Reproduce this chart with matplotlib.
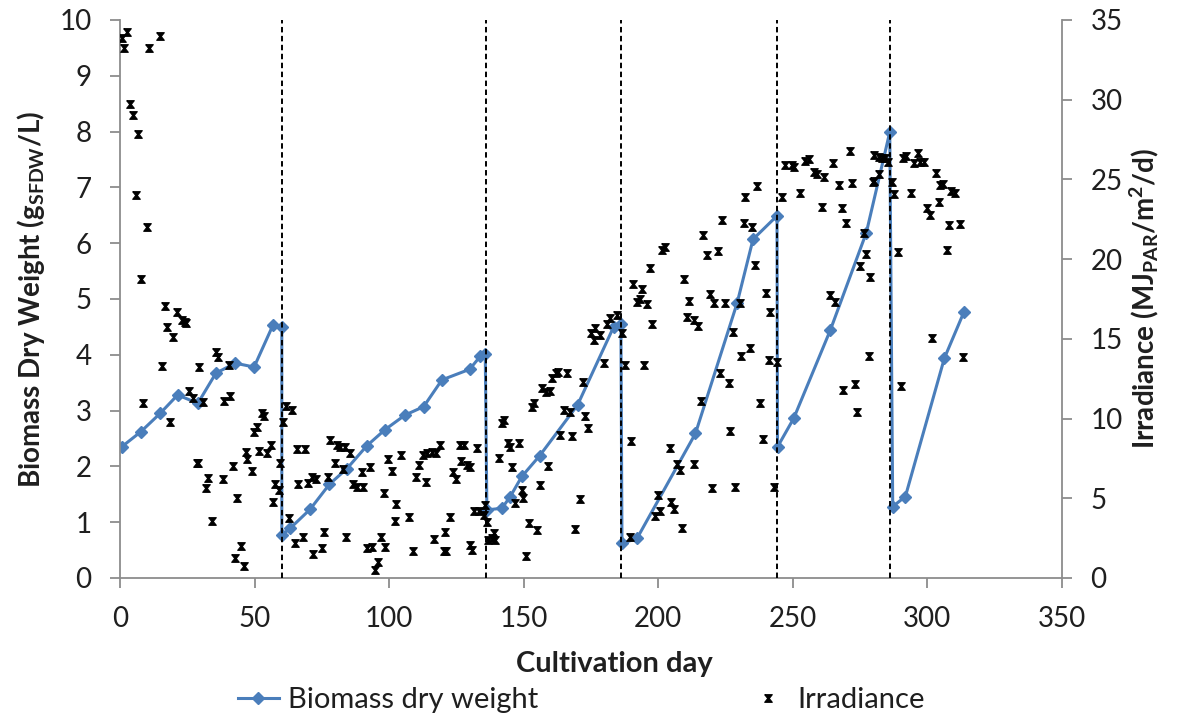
import numpy as np
import matplotlib
matplotlib.use("Agg")
import matplotlib.pyplot as plt
from matplotlib.lines import Line2D

plt.rcParams["font.family"] = ["Lato", "DejaVu Sans"]
plt.rcParams["mathtext.fontset"] = "custom"
plt.rcParams["mathtext.rm"] = "Lato:bold"
plt.rcParams["mathtext.it"] = "Lato:bold"
plt.rcParams["mathtext.bf"] = "Lato:bold"

# biomass dry weight (g/L) per cultivation day
bio_day = [0.6, 7.7, 14.9, 21.4, 28.9, 35.6, 42.8, 49.8, 56.8, 60.1,
           60.1, 63.2, 70.6, 77.8, 84.3, 91.7, 98.5, 105.9, 112.8, 119.6,
           129.9, 133.8, 135.7, 136.3, 141.9, 145.0, 149.3, 155.9, 170.0, 183.4,
           186.1, 186.5, 192.1, 213.8, 229.3, 235.2, 244.1, 244.3, 250.3, 263.9,
           277.3, 286.0, 287.1, 291.8, 306.3, 313.5]
bio_val = [2.35, 2.62, 2.95, 3.28, 3.13, 3.67, 3.85, 3.78, 4.53, 4.50,
           0.77, 0.89, 1.23, 1.68, 1.96, 2.37, 2.66, 2.92, 3.07, 3.55,
           3.74, 3.97, 4.02, 1.22, 1.25, 1.46, 1.82, 2.19, 3.10, 4.50,
           4.56, 0.62, 0.71, 2.59, 4.93, 6.07, 6.49, 2.35, 2.86, 4.44,
           6.19, 7.99, 1.28, 1.46, 3.94, 4.76]

# harvest days (dashed lines)
harvest_days = [60, 136, 186, 244, 286]

# irradiance (MJ_PAR/m2/d)
irr_day = [0.6, 1.5, 2.7, 3.7, 4.7, 5.8, 6.8, 7.7, 8.7, 9.9,
           10.9, 14.9, 15.5, 16.7, 17.4, 18.6, 19.8, 21.0, 22.9, 24.2,
           24.5, 25.8, 27.0, 28.5, 29.1, 29.5, 31.0, 32.0, 32.8, 34.1,
           35.6, 36.5, 38.2, 38.7, 40.3, 40.9, 42.1, 42.8, 43.6, 44.9,
           46.1, 46.8, 47.3, 49.0, 49.8, 50.8, 51.8, 52.7, 53.5, 54.5,
           56.0, 56.8, 57.6, 58.9, 59.5, 60.5, 61.7, 62.6, 63.8, 65.1,
           65.9, 66.3, 67.9, 68.8, 70.0, 71.3, 71.6, 72.9, 75.0, 75.6,
           77.1, 78.1, 79.9, 80.6, 81.8, 82.8, 83.6, 84.0, 85.5, 86.7,
           88.2, 89.8, 90.4, 91.7, 92.9, 93.6, 94.8, 96.0, 96.9, 98.1,
           98.5, 99.7, 101.0, 102.2, 102.6, 104.3, 107.5, 109.0, 109.9, 110.9,
           112.5, 113.8, 114.0, 115.9, 116.5, 117.5, 119.0, 120.2, 120.8, 121.2,
           122.7, 123.7, 124.9, 126.4, 126.7, 127.9, 128.9, 129.9, 130.1, 130.7,
           131.6, 132.8, 133.4, 135.1, 135.7, 136.3, 136.9, 138.2, 138.8, 139.4,
           140.9, 141.9, 142.5, 144.3, 145.0, 145.6, 146.8, 148.1, 149.3, 149.9,
           150.9, 151.8, 153.0, 153.7, 154.9, 155.9, 156.8, 158.4, 158.9, 159.9,
           160.5, 162.1, 162.6, 163.6, 164.8, 166.1, 167.0, 167.9, 169.1, 171.0,
           172.2, 172.9, 173.7, 175.0, 176.0, 176.6, 178.2, 179.7, 180.9, 181.9,
           184.6, 186.5, 187.7, 189.3, 189.8, 190.6, 192.1, 193.3, 193.9, 194.8,
           195.8, 197.0, 197.7, 198.9, 199.7, 200.7, 201.4, 202.6, 204.2, 204.7,
           206.0, 206.9, 208.2, 208.8, 209.7, 210.7, 211.3, 213.1, 213.1, 214.6,
           215.9, 216.6, 218.1, 219.1, 220.0, 220.8, 222.0, 222.8, 223.7, 224.9,
           226.1, 226.8, 227.8, 228.6, 230.2, 230.7, 231.7, 232.3, 233.9, 234.8,
           236.1, 236.7, 237.9, 238.9, 240.1, 241.0, 241.6, 242.9, 244.1, 246.0,
           247.2, 249.7, 250.6, 252.8, 254.6, 255.9, 257.7, 259.0, 260.8, 261.5,
           263.9, 264.9, 265.8, 267.0, 268.3, 268.6, 269.9, 271.1, 272.0, 273.2,
           273.9, 274.8, 276.6, 277.3, 278.2, 278.8, 279.8, 280.0, 280.0, 281.9,
           281.9, 283.2, 284.4, 285.3, 286.9, 287.5, 289.0, 290.2, 291.0, 292.2,
           293.9, 294.9, 296.4, 297.4, 298.9, 299.9, 300.9, 301.7, 303.0, 304.2,
           304.8, 305.8, 307.1, 307.9, 308.8, 310.4, 312.0, 313.3]
irr_val = [33.86, 33.27, 34.27, 29.74, 29.05, 24.03, 27.85, 18.74, 10.96, 22.00,
           33.23, 34.00, 13.30, 17.06, 15.77, 9.81, 15.14, 16.70, 16.19, 16.08,
           16.02, 11.73, 11.27, 7.20, 7.20, 13.22, 11.06, 5.63, 6.29, 3.59,
           14.16, 13.85, 6.21, 11.12, 13.36, 11.42, 7.03, 1.24, 5.00, 2.03,
           0.77, 7.92, 7.45, 6.73, 9.18, 9.49, 7.99, 10.33, 10.16, 7.82,
           8.34, 4.79, 5.90, 5.50, 7.23, 9.81, 10.79, 3.74, 10.54, 2.18,
           8.07, 5.90, 2.55, 8.07, 5.98, 6.36, 1.51, 6.19, 1.86, 2.90,
           6.36, 8.66, 7.20, 8.34, 8.20, 6.82, 8.20, 2.59, 7.82, 5.90,
           5.73, 6.67, 5.69, 1.86, 6.98, 1.96, 0.50, 1.02, 2.55, 5.31,
           1.96, 7.45, 6.71, 3.59, 4.64, 7.72, 3.81, 1.71, 6.32, 7.09,
           7.72, 6.04, 7.82, 7.92, 2.43, 7.82, 8.34, 1.71, 2.90, 1.71,
           3.81, 6.67, 6.19, 8.34, 7.36, 8.34, 7.09, 2.07, 6.98, 1.76,
           4.20, 8.14, 4.20, 3.95, 4.58, 3.53, 2.38, 2.49, 2.80, 2.38,
           7.51, 9.70, 9.91, 8.45, 8.20, 6.98, 4.69, 8.45, 5.52, 5.00,
           1.38, 3.43, 10.75, 11.00, 3.01, 5.83, 11.90, 11.69, 7.03, 11.75,
           12.53, 12.84, 12.94, 8.97, 10.54, 12.88, 10.43, 8.91, 3.06, 4.94,
           12.32, 10.16, 9.39, 15.39, 14.93, 15.70, 15.24, 13.51, 15.93, 16.29,
           16.50, 15.35, 13.36, 2.59, 8.61, 18.44, 17.33, 17.48, 18.11, 13.36,
           17.19, 19.43, 15.93, 3.89, 5.21, 4.20, 20.58, 20.75, 8.14, 4.79,
           4.31, 7.15, 6.78, 3.12, 18.74, 16.36, 17.40, 16.19, 7.15, 15.81,
           11.12, 21.52, 20.26, 17.82, 5.63, 17.27, 20.53, 12.88, 22.46, 17.27,
           12.21, 9.24, 15.45, 5.73, 17.27, 13.93, 22.29, 23.92, 14.41, 22.04,
           19.64, 24.59, 10.96, 8.70, 17.90, 13.68, 16.71, 5.73, 13.57, 23.89,
           25.91, 25.91, 25.80, 24.17, 26.18, 26.27, 25.49, 25.35, 23.29, 25.18,
           17.75, 26.02, 17.33, 24.65, 23.19, 11.79, 22.29, 26.81, 24.76, 12.17,
           10.43, 19.57, 21.62, 20.33, 13.93, 18.90, 24.86, 26.54, 24.93, 25.35,
           26.39, 26.33, 26.33, 26.12, 24.86, 24.09, 20.47, 12.05, 26.33, 26.47,
           24.13, 26.02, 26.68, 26.12, 26.12, 23.19, 22.77, 15.04, 25.43, 23.61,
           24.65, 24.72, 20.58, 22.15, 24.30, 24.17, 22.21, 13.85]

blue = "#4A7EBB"
grey = "#8C8C8C"
txt = "#1f1f1f"
# excel style "x" marker (hourglass shaped)
xmark = [(-1, 1), (1, 1), (0.2, 0), (1, -1), (-1, -1), (-0.2, 0), (-1, 1)]

fig = plt.figure(figsize=(11.77, 7.18), dpi=100)
ax = fig.add_axes([0.102, 0.195, 0.8003, 0.7772])
ax2 = ax.twinx()

ax.plot(bio_day, bio_val, color=blue, lw=2.2, marker="D", ms=6.5, mec=blue, mfc=blue, zorder=2)
for d in harvest_days:
    ax.axvline(d, color="black", lw=1.4, ls=(0, (2.8, 1.8)), zorder=3)

ax2.plot(irr_day, irr_val, ls="none", marker=xmark, ms=5.5, color="black", mew=0.8)

ax.set_xlim(0, 350)
ax.set_ylim(0, 10)
ax2.set_ylim(0, 35)
ax.set_xticks(np.arange(0, 351, 50))
ax.set_yticks(np.arange(0, 11, 1))
ax2.set_yticks(np.arange(0, 36, 5))

for a in (ax, ax2):
    a.spines["top"].set_visible(False)
    for s in a.spines.values():
        s.set_color(grey)
        s.set_linewidth(1.3)
    a.tick_params(direction="out", length=7.5, width=1.3, color=grey,
                  labelsize=20, labelcolor=txt, pad=13)
ax.spines["right"].set_visible(False)
ax2.spines["left"].set_visible(False)
ax2.spines["bottom"].set_visible(False)

ax.set_xlabel("Cultivation day", fontsize=21, fontweight="bold", color=txt)
ax.xaxis.set_label_coords(0.525, -0.13)
ax.set_ylabel(r"Biomass Dry Weight (g$_{\mathrm{SFDW}}$/L)", fontsize=20,
              fontweight="bold", color=txt)
ax.yaxis.set_label_coords(-0.078, 0.5)
ax2.set_ylabel(r"Irradiance (MJ$_{\mathrm{PAR}}$/m$^{\mathrm{2}}$/d)", fontsize=20,
               fontweight="bold", color=txt)
ax2.yaxis.set_label_coords(1.07, 0.5)

handles = [
    Line2D([], [], color=blue, lw=2.2, marker="D", ms=6.5),
    Line2D([], [], ls="none", marker=xmark, ms=5.5, color="black", mew=0.8),
]
fig.legend(handles, ["Biomass dry weight", "Irradiance"], loc="center",
           bbox_to_anchor=(0.494, 1 - 700 / 718), ncol=2, frameon=False,
           fontsize=21, columnspacing=7.2, handlelength=1.4, handletextpad=0.3,
           labelcolor=txt)

fig.savefig("out.png", dpi=100)
